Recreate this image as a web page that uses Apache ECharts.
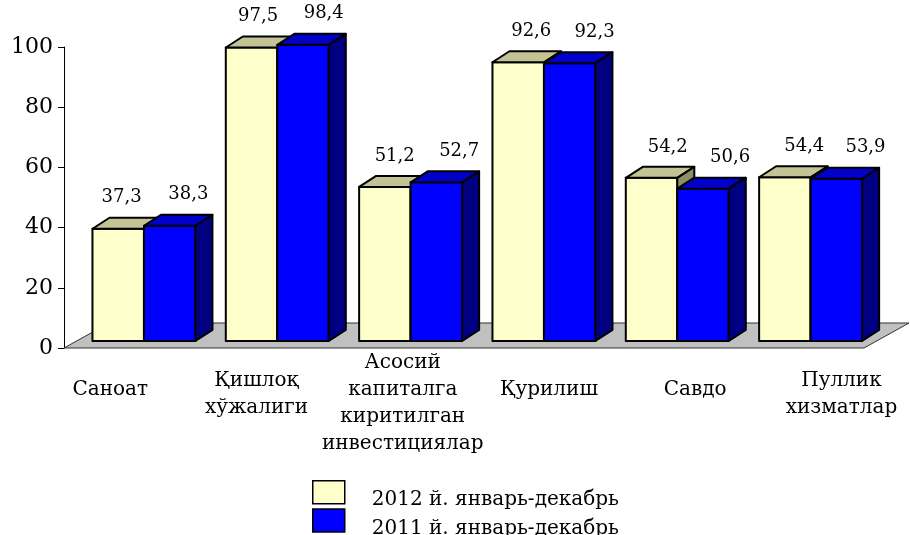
<!DOCTYPE html>
<html>
<head>
<meta charset="utf-8">
<script src="https://cdn.jsdelivr.net/npm/echarts@6/dist/echarts.min.js"></script>
<style>html,body{margin:0;padding:0;background:#fff;}#c{width:910px;height:535px;}</style>
</head>
<body>
<div id="c"></div>
<script>
const categories = ['Саноат', 'Қишлоқ\nхўжалиги', 'Асосий\nкапиталга\nкиритилган\nинвестициялар', 'Қурилиш', 'Савдо', 'Пуллик\nхизматлар'];
const seriesNames = ['2012 й. январь-декабрь', '2011 й. январь-декабрь'];
const values2012 = [37.3, 97.5, 51.2, 92.6, 54.2, 54.4];
const values2011 = [38.3, 98.4, 52.7, 92.3, 50.6, 53.9];

const FONT = 'DejaVu Serif';
const BW = 51.5, SHIFT = 13.3, LIFT = 7, DX = 17, DY = 11;
const FLOOR_DX = 45, FLOOR_DY = 25;

const palettes = [
  {front: '#FFFFCC', top: '#C3C396', side: '#8E8E66'},
  {front: '#0000FF', top: '#0000C8', side: '#000080'}
];

function fmt(v) { return v.toFixed(1).replace('.', ','); }

function barRenderer(s) {
  return function (params, api) {
    const i = api.value(0), v = api.value(1);
    const base = api.coord([i, 0]);
    const topP = api.coord([i, v]);
    const cx = base[0] + SHIFT;
    const x0 = s === 0 ? cx - BW : cx;
    const x1 = x0 + BW;
    const yb = base[1] - LIFT, yt = topP[1] - LIFT;
    const p = palettes[s];
    const st = {stroke: '#000', lineWidth: 2, lineJoin: 'round'};
    const labelOff = s === 0 ? 3.4 + 3.2 * i : 18.6 + 2.1 * i;
    return {
      type: 'group',
      children: [
        {type: 'polygon', shape: {points: [[x0, yb], [x1, yb], [x1, yt], [x0, yt]]}, style: Object.assign({fill: p.front}, st)},
        {type: 'polygon', shape: {points: [[x0, yt], [x1, yt], [x1 + DX, yt - DY], [x0 + DX, yt - DY]]}, style: Object.assign({fill: p.top}, st)},
        {type: 'polygon', shape: {points: [[x1, yt], [x1 + DX, yt - DY], [x1 + DX, yb - DY], [x1, yb]]}, style: Object.assign({fill: p.side}, st)},
        {type: 'text', x: x0 + BW / 2 + labelOff, y: yt - 31, style: {text: fmt(v), fill: '#000', font: '18px "' + FONT + '"', align: 'center', verticalAlign: 'middle'}}
      ]
    };
  };
}

const chart = echarts.init(document.getElementById('c'), null, {renderer: 'canvas'});
chart.setOption({
  animation: false,
  backgroundColor: '#fff',
  grid: {left: 64, right: 46, top: 47, bottom: 187},
  xAxis: {
    type: 'category', data: categories,
    axisLine: {show: false}, axisTick: {show: false}, axisLabel: {show: false}, splitLine: {show: false}
  },
  yAxis: {
    type: 'value', min: 0, max: 100, interval: 20,
    axisLine: {show: true, lineStyle: {color: '#000', width: 1}},
    axisTick: {show: true, length: 6, lineStyle: {color: '#000'}},
    splitLine: {show: false},
    axisLabel: {color: '#000', fontFamily: FONT, fontSize: 22, margin: 11}
  },
  legend: {
    orient: 'vertical', left: 312, top: 480, height: 120, padding: 0,
    itemWidth: 32, itemHeight: 23, itemGap: -2,
    icon: 'rect', selectedMode: false,
    formatter: '{a|{name}}',
    textStyle: {
      color: '#000', fontFamily: FONT, fontSize: 20,
      rich: {a: {color: '#000', fontFamily: FONT, fontSize: 20, padding: [16, 0, 0, 22]}}
    },
    data: [
      {name: seriesNames[0], itemStyle: {color: palettes[0].front, borderColor: '#000', borderWidth: 1.5}},
      {name: seriesNames[1], itemStyle: {color: palettes[1].front, borderColor: '#000', borderWidth: 1.5}}
    ]
  },
  series: [
    {
      type: 'custom', name: 'floor', silent: true, z: 1,
      data: [[0, 0]],
      renderItem: function (params, api) {
        const cs = params.coordSys;
        const yB = cs.y + cs.height, xL = cs.x, xR = cs.x + cs.width;
        return {
          type: 'polygon',
          shape: {points: [[xL, yB], [xR, yB], [xR + FLOOR_DX, yB - FLOOR_DY], [xL + FLOOR_DX, yB - FLOOR_DY]]},
          style: {fill: '#C0C0C0', stroke: '#333', lineWidth: 1}
        };
      }
    },
    {
      type: 'custom', name: seriesNames[0], z: 2,
      itemStyle: {color: palettes[0].front, borderColor: '#000', borderWidth: 1.5},
      encode: {x: 0, y: 1},
      data: values2012.map((v, i) => [i, v]),
      renderItem: barRenderer(0)
    },
    {
      type: 'custom', name: seriesNames[1], z: 3,
      itemStyle: {color: palettes[1].front, borderColor: '#000', borderWidth: 1.5},
      encode: {x: 0, y: 1},
      data: values2011.map((v, i) => [i, v]),
      renderItem: barRenderer(1)
    },
    {
      type: 'custom', name: 'labels', silent: true, z: 4,
      encode: {x: 0, y: 1},
      data: categories.map((c, i) => [i, 0]),
      renderItem: function (params, api) {
        const i = api.value(0);
        const p = api.coord([i, 0]);
        const text = categories[i];
        const n = text.split('\n').length;
        return {
          type: 'text', x: p[0] - 20.4 + 12.9 * i, y: p[1] + 42 + (n - 1) * 4.5,
          style: {text: text, fill: '#000', font: '20px "' + FONT + '"', align: 'center', verticalAlign: 'middle', lineHeight: 27}
        };
      }
    }
  ]
});
</script>
</body>
</html>
